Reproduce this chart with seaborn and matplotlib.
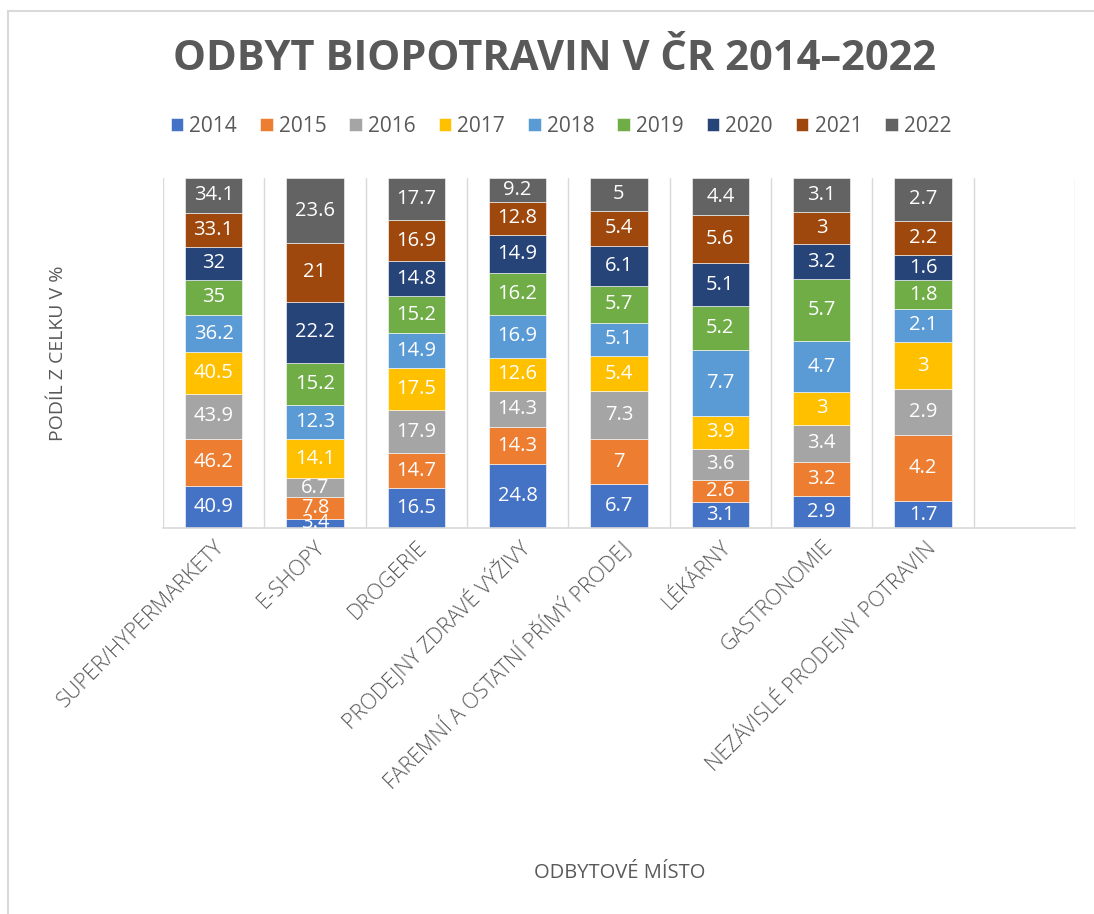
import numpy as np
import pandas as pd
import matplotlib
matplotlib.use("Agg")
import matplotlib.pyplot as plt
from matplotlib.lines import Line2D
import seaborn as sns

categories = ["SUPER/HYPERMARKETY", "E-SHOPY", "DROGERIE", "PRODEJNY ZDRAVÉ VÝŽIVY",
              "FAREMNÍ A OSTATNÍ PŘÍMÝ PRODEJ", "LÉKÁRNY", "GASTRONOMIE",
              "NEZÁVISLÉ PRODEJNY POTRAVIN"]
years = ["2014", "2015", "2016", "2017", "2018", "2019", "2020", "2021", "2022"]

v2014 = [40.9, 3.4, 16.5, 24.8, 6.7, 3.1, 2.9, 1.7]
v2015 = [46.2, 7.8, 14.7, 14.3, 7.0, 2.6, 3.2, 4.2]
v2016 = [43.9, 6.7, 17.9, 14.3, 7.3, 3.6, 3.4, 2.9]
v2017 = [40.5, 14.1, 17.5, 12.6, 5.4, 3.9, 3.0, 3.0]
v2018 = [36.2, 12.3, 14.9, 16.9, 5.1, 7.7, 4.7, 2.1]
v2019 = [35.0, 15.2, 15.2, 16.2, 5.7, 5.2, 5.7, 1.8]
v2020 = [32.0, 22.2, 14.8, 14.9, 6.1, 5.1, 3.2, 1.6]
v2021 = [33.1, 21.0, 16.9, 12.8, 5.4, 5.6, 3.0, 2.2]
v2022 = [34.1, 23.6, 17.7, 9.2, 5.0, 4.4, 3.1, 2.7]

colors = ["#4472C4", "#ED7D31", "#A5A5A5", "#FFC000", "#5B9BD5",
          "#70AD47", "#264478", "#9E480E", "#636363"]

series = [v2014, v2015, v2016, v2017, v2018, v2019, v2020, v2021, v2022]

sns.set_theme(style="white")
plt.rcParams['font.family'] = ['Open Sans', 'DejaVu Sans']
TXT = "#595959"

W, H = 1094, 914
fig = plt.figure(figsize=(W / 100, H / 100), dpi=100)
ax_l, ax_r, ax_t, ax_b = 163, 1075, 178, 528
ax = fig.add_axes([ax_l / W, 1 - ax_b / H, (ax_r - ax_l) / W, (ax_b - ax_t) / H])

df = pd.DataFrame({y: s for y, s in zip(years, series)}, index=categories)
totals = df.sum(axis=1).values
bottom = np.zeros(len(categories))
handles = []
for year, col in zip(years, colors):
    vals = df[year].values
    pct = vals / totals
    sns.barplot(x=categories, y=pct, bottom=bottom.copy(), color=col, width=0.563,
                ax=ax, edgecolor="white", linewidth=0.4, saturation=1)
    cont = ax.containers[-1]
    handles.append(cont.patches[0])
    texts = ax.bar_label(cont, labels=[f"{v:g}" for v in vals], label_type="center",
                         color="white", fontsize=14.5)
    for t in texts:
        t.set_clip_on(True)
    bottom += pct

ax.set_xlim(-0.5, 8.5)
ax.set_ylim(0, 1)
ax.set_yticks([])
ax.set_xticks(np.arange(-0.5, 9.0, 1.0), minor=True)
ax.grid(which="minor", axis="x", color="#D9D9D9", linewidth=1)
ax.grid(which="major", axis="x", visible=False)
ax.set_axisbelow(True)
ax.tick_params(axis="x", which="both", length=0, pad=6)
ax.set_xticks(range(len(categories)))
ax.set_xticklabels(categories, rotation=45, ha="right", va="top",
                   rotation_mode="anchor", fontsize=15.5, fontweight="light",
                   color=TXT)
for s in ["left", "top", "right"]:
    ax.spines[s].set_visible(False)
ax.spines["bottom"].set_color("#D9D9D9")
ax.spines["bottom"].set_linewidth(1.2)

ax.set_ylabel("PODÍL Z CELKU V %", fontsize=14, color=TXT)
ax.yaxis.label.set_verticalalignment("center")
ax.yaxis.set_label_coords(-(ax_l - 58) / (ax_r - ax_l), 0.5)
ax.set_xlabel("ODBYTOVÉ MÍSTO", fontsize=14.5, color=TXT)
ax.xaxis.label.set_verticalalignment("center")
ax.xaxis.set_label_coords((620 - ax_l) / (ax_r - ax_l), -(873 - ax_b) / (ax_b - ax_t))

fig.suptitle("ODBYT BIOPOTRAVIN V ČR 2014–2022", x=555 / W, y=1 - 59 / H,
             va="center", ha="center", fontsize=30, fontweight="bold", color=TXT)

fig.legend(handles, years, loc="center", bbox_to_anchor=(561 / W, 1 - 126 / H),
           ncol=9, frameon=False, fontsize=15, labelcolor=TXT,
           handlelength=0.6, handleheight=0.6, handletextpad=0.3,
           columnspacing=1.1)

fig.add_artist(Line2D([8 / W, 8 / W], [0, 1 - 11 / H], transform=fig.transFigure,
                      color="#D9D9D9", linewidth=1.5))
fig.add_artist(Line2D([8 / W, 1], [1 - 11 / H, 1 - 11 / H], transform=fig.transFigure,
                      color="#D9D9D9", linewidth=1.5))

fig.savefig("out.png", dpi=100)
